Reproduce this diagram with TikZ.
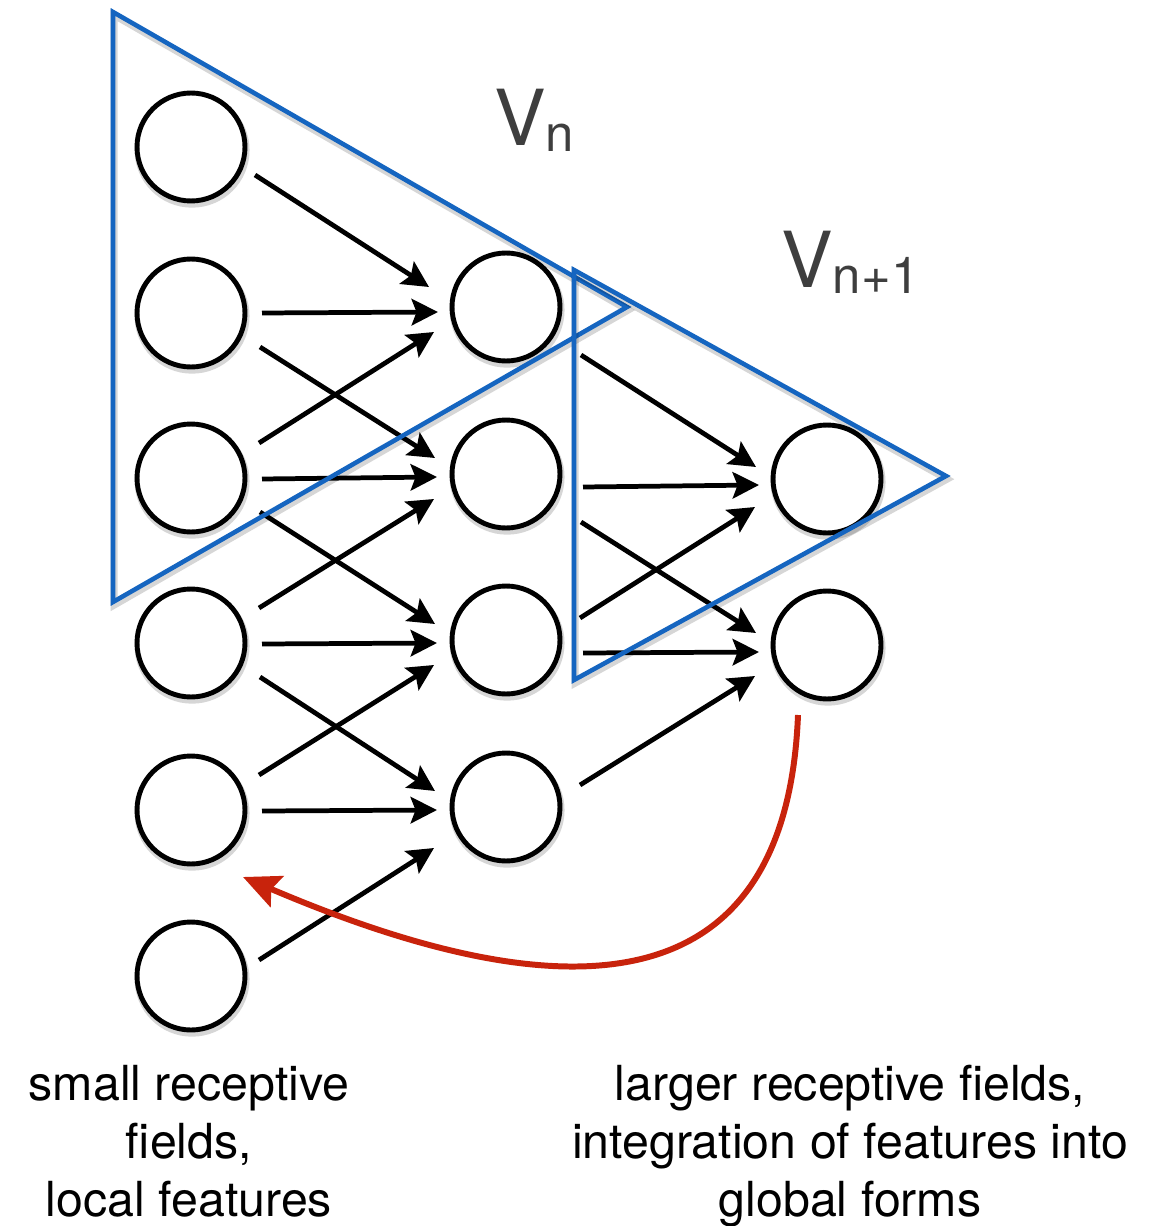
\documentclass[tikz,border=0pt]{standalone}
\usepackage{fontspec}
\setmainfont{TeX Gyre Heros}
\usetikzlibrary{arrows.meta}
\definecolor{fieldblue}{RGB}{21,101,192}
\definecolor{backred}{RGB}{200,35,12}
\definecolor{labelgray}{RGB}{62,62,62}
\begin{document}
\begin{tikzpicture}[x=0.02cm, y=-0.02cm,
  softshadow/.style={preaction={draw=black, draw opacity=0.16, line width=4pt,
      transform canvas={shift={(0.6pt,-1.8pt)}}}},
  unit/.style={circle, draw=black, line width=2.8pt, fill=white,
      minimum size=2.16cm, inner sep=0pt, softshadow},
  field/.style={draw=fieldblue, line width=2.6pt, line join=miter, softshadow},
  link/.style={line width=2.7pt, -{Stealth[length=15pt, width=15pt, inset=2.8pt]}},
  feedback/.style={draw=backred, line width=3.4pt,
      -{Stealth[length=21pt, width=19pt, inset=3.5pt]}},
  caption/.style={font=\fontsize{27.5}{33}\selectfont, inner sep=0pt, anchor=base},
  vlabel/.style={text=labelgray, font=\fontsize{44}{48}\selectfont, inner sep=0pt, anchor=base west}]

\useasboundingbox (0,0) rectangle (1157,1226);

% input layer
\node[unit] (L1) at (191,147) {};
\node[unit] (L2) at (191,313) {};
\node[unit] (L3) at (191,478) {};
\node[unit] (L4) at (191,643) {};
\node[unit] (L5) at (191,810) {};
\node[unit] (L6) at (191,976) {};
% middle layer
\node[unit] (M1) at (506,307) {};
\node[unit] (M2) at (506,474) {};
\node[unit] (M3) at (506,640) {};
\node[unit] (M4) at (506,807) {};
% upper layer
\node[unit] (R1) at (827,479) {};
\node[unit] (R2) at (827,645) {};

% feed-forward connections, first stage
\draw[link] ([shift={(64,28)}]L1.center)  -- ([shift={(-77,-20)}]M1.center);
\draw[link] ([shift={(71,0)}]L2.center)   -- ([shift={(-68,5)}]M1.center);
\draw[link] ([shift={(69,34)}]L2.center)  -- ([shift={(-71,-16)}]M2.center);
\draw[link] ([shift={(68,-35)}]L3.center) -- ([shift={(-72,25)}]M1.center);
\draw[link] ([shift={(71,1)}]L3.center)   -- ([shift={(-69,3)}]M2.center);
\draw[link] ([shift={(69,34)}]L3.center)  -- ([shift={(-71,-16)}]M3.center);
\draw[link] ([shift={(68,-35)}]L4.center) -- ([shift={(-72,25)}]M2.center);
\draw[link] ([shift={(71,1)}]L4.center)   -- ([shift={(-69,3)}]M3.center);
\draw[link] ([shift={(69,34)}]L4.center)  -- ([shift={(-71,-16)}]M4.center);
\draw[link] ([shift={(68,-35)}]L5.center) -- ([shift={(-72,25)}]M3.center);
\draw[link] ([shift={(71,1)}]L5.center)   -- ([shift={(-69,3)}]M4.center);
\draw[link] ([shift={(68,-16)}]L6.center) -- ([shift={(-72,41)}]M4.center);

% feed-forward connections, second stage
\draw[link] ([shift={(75,48)}]M1.center)  -- ([shift={(-71,-12)}]R1.center);
\draw[link] ([shift={(77,13)}]M2.center)  -- ([shift={(-68,6)}]R1.center);
\draw[link] ([shift={(75,48)}]M2.center)  -- ([shift={(-71,-12)}]R2.center);
\draw[link] ([shift={(74,-22)}]M3.center) -- ([shift={(-72,28)}]R1.center);
\draw[link] ([shift={(77,13)}]M3.center)  -- ([shift={(-68,7)}]R2.center);
\draw[link] ([shift={(74,-22)}]M4.center) -- ([shift={(-72,31)}]R2.center);

% receptive fields
\draw[field] (113,12) -- (113,602) -- (627,307) -- cycle;
\draw[field] (574,270) -- (574,680) -- (946,476) -- cycle;

% feedback from the upper layer
\draw[feedback] ([shift={(-29,70)}]R2.center)
  .. controls (788,965) and (625,1040) .. ([shift={(52,67)}]L5.center);

% layer labels
\node[vlabel] (vn)  at (494,146) {V\raisebox{-3pt}{\fontsize{29}{29}\selectfont n}};
\node[vlabel] (vn1) at (781,288) {V\raisebox{-3pt}{\fontsize{29}{29}\selectfont n+1}};

% captions
\node[caption] (c1) at (189,1100) {small receptive};
\node[caption] (c2) at (189,1158) {fields,};
\node[caption] (c3) at (189,1216) {local features};
\node[caption] (d1) at (850,1100) {larger receptive fields,};
\node[caption] (d2) at (850,1158) {integration of features into};
\node[caption] (d3) at (850,1216) {global forms};
\end{tikzpicture}
\end{document}
